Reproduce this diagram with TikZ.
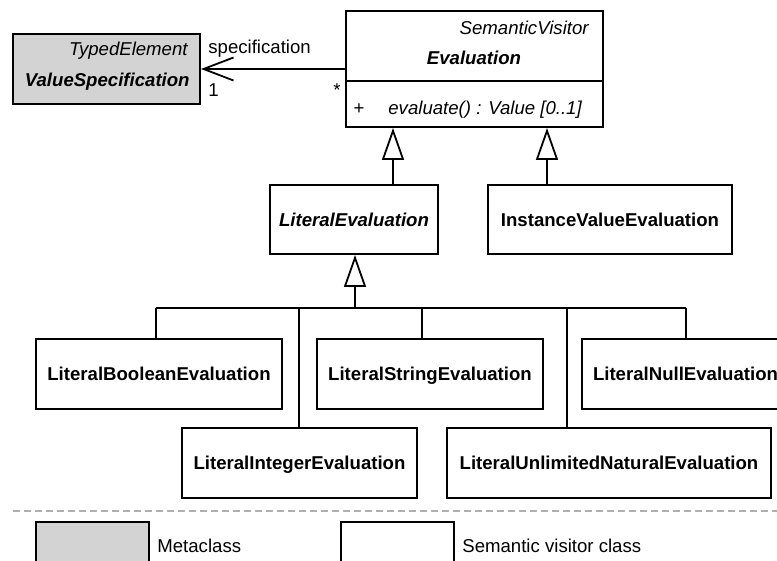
\documentclass[tikz,border=0pt]{standalone}
\usepackage{fontspec}
\setmainfont{Liberation Sans}
\usepackage{tikz}
\usetikzlibrary{arrows.meta,shapes}
\newcommand{\lw}{1pt}
\newcommand{\fsz}{\fontsize{9.3}{11}\selectfont}
\definecolor{metagray}{RGB}{211,211,211}
\definecolor{sepgray}{RGB}{175,175,175}

\begin{document}
\begin{tikzpicture}[x=0.5pt,y=-0.5pt]
            \tikzset{ClassStyle/.style = {draw, line width=\lw, rectangle, inner sep=0pt, minimum height=35pt, font=\fsz\bfseries, text height=6.6pt, text depth=0pt}}
            \tikzset{MetaStyle/.style = {ClassStyle, fill=metagray}}
            \tikzset{TextStyle/.style = {inner sep=0pt, font=\fsz}}
            \tikzset{LineStyle/.style = {line width=0.9pt}}
            \tikzset{GenStyle/.style = {LineStyle, -{Triangle[open, length=16pt, width=11pt]}}}
            \tikzset{AssocStyle/.style = {LineStyle, -{Straight Barb[length=15pt, width=11.5pt]}}}
            \useasboundingbox (0,0) rectangle (777,561);

            \node[MetaStyle, minimum width=93.5pt] (valspec) at (106.5,69) {};
            \node[TextStyle, font=\fsz\itshape, anchor=base east] (typed) at (188,56) {TypedElement};
            \node[TextStyle, font=\fsz\bfseries\itshape, anchor=base east] (vsname) at (190,87) {ValueSpecification};

            \node[ClassStyle, minimum width=128.5pt, minimum height=58pt] (eval) at (474.5,69) {};
            \coordinate (div) at (0,81);
            \draw[line width=\lw] (eval.west |- div) -- (eval.east |- div);
            \node[TextStyle, font=\fsz\itshape, anchor=base east] (visitor) at (589,35) {SemanticVisitor};
            \node[TextStyle, font=\fsz\bfseries\itshape, anchor=base] (evname) at (474,65) {Evaluation};
            \node[TextStyle, anchor=base] (plus) at (359,115) {+};
            \node[TextStyle, font=\fsz\itshape, anchor=base west] (op) at (388,115) {evaluate() : Value [0..1]};

            \draw[AssocStyle] (eval) -- (valspec);
            \node[TextStyle, anchor=base west] (spec) at (208,54) {specification};
            \node[TextStyle, anchor=base west] (one) at (208,97) {1};
            \node[TextStyle, anchor=base] (many) at (337,97) {*};

            \node[ClassStyle, font=\fsz\bfseries\itshape, minimum width=84pt, minimum height=34.5pt] (lit) at (354,219.5) {LiteralEvaluation};
            \node[ClassStyle, minimum width=122pt, minimum height=34.5pt] (inst) at (610,219.5) {InstanceValueEvaluation};
            \coordinate (ga) at (393,0);
            \coordinate (gb) at (547,0);
            \draw[GenStyle] (lit.north -| ga) -- (eval.south -| ga);
            \draw[GenStyle] (inst.north -| gb) -- (eval.south -| gb);

            \node[ClassStyle, minimum width=123pt] (bool) at (159,374) {LiteralBooleanEvaluation};
            \node[ClassStyle, minimum width=113pt] (str) at (430,374) {LiteralStringEvaluation};
            \node[ClassStyle, minimum width=103.5pt] (null) at (685.5,374) {LiteralNullEvaluation};
            \node[ClassStyle, minimum width=117.5pt] (int) at (299.5,463) {LiteralIntegerEvaluation};
            \node[ClassStyle, minimum width=162pt] (unat) at (609,463) {LiteralUnlimitedNaturalEvaluation};

            \coordinate (j) at (355,308);
            \coordinate (jb) at (156,308);
            \coordinate (ji) at (299,308);
            \coordinate (js) at (422,308);
            \coordinate (ju) at (567,308);
            \coordinate (jn) at (686,308);
            \draw[GenStyle] (j) -- (lit.south -| j);
            \draw[LineStyle] (jb) -- (jn);
            \draw[LineStyle] (jb) -- (jb |- bool.north);
            \draw[LineStyle] (ji) -- (ji |- int.north);
            \draw[LineStyle] (js) -- (js |- str.north);
            \draw[LineStyle] (ju) -- (ju |- unat.north);
            \draw[LineStyle] (jn) -- (jn |- null.north);

            \draw[sepgray, line width=0.8pt, dash pattern=on 3.5pt off 2pt] (13,511) -- (777,511);

            \node[MetaStyle, minimum width=56.5pt, minimum height=29pt] (legmeta) at (92.5,551) {};
            \node[TextStyle, anchor=base west] (metatext) at (157,552) {Metaclass};
            \node[ClassStyle, minimum width=56.5pt, minimum height=29pt] (legvis) at (397.5,551) {};
            \node[TextStyle, anchor=base west] (vistext) at (462,552) {Semantic visitor class};
        \end{tikzpicture}
\end{document}
